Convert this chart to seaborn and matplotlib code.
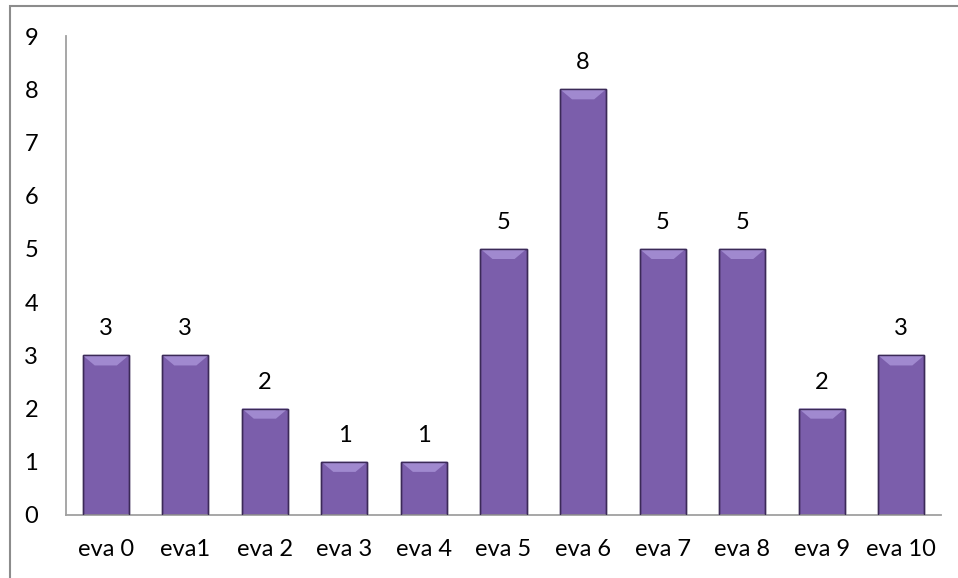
import matplotlib
matplotlib.use("Agg")
import matplotlib.pyplot as plt
from matplotlib.patches import Polygon, Rectangle
import seaborn as sns
import pandas as pd

categories = ["eva 0", "eva1", "eva 2", "eva 3", "eva 4", "eva 5",
              "eva 6", "eva 7", "eva 8", "eva 9", "eva 10"]
counts = [3, 3, 2, 1, 1, 5, 8, 5, 5, 2, 3]

df = pd.DataFrame({"category": categories, "count": counts})

sns.set_theme(style="white")
plt.rcParams["font.family"] = ["Lato", "DejaVu Sans"]

fig = plt.figure(figsize=(9.58, 5.78), dpi=100)
ax = fig.add_axes([0.0689, 0.109, 0.9134, 0.8287])

sns.barplot(data=df, x="category", y="count", color="#7b5eab",
            width=0.58, edgecolor="#3b2a57", linewidth=1.0,
            saturation=1, ax=ax)

# bevelled top on each bar
for p in ax.patches:
    x0, y0 = p.get_x(), p.get_y()
    w, h = p.get_width(), p.get_height()
    bx = w * 0.26
    by = 0.19
    top = y0 + h
    ax.add_patch(Polygon([(x0, top), (x0 + w, top), (x0 + w - bx, top - by),
                          (x0 + bx, top - by)], closed=True,
                         facecolor="#a089cf", edgecolor="none", zorder=3))
    ax.add_patch(Rectangle((x0, y0), w, h, facecolor="none",
                           edgecolor="#3b2a57", linewidth=1.0, zorder=4))
    ax.annotate(f"{int(round(h))}", (x0 + w / 2, top), xytext=(0, 19),
                textcoords="offset points", ha="center", va="center",
                fontsize=17, color="black")

ax.set_ylim(0, 9)
ax.set_xlim(-0.5, len(categories) - 0.5)
ax.set_yticks(range(0, 10))
ax.set_xlabel("")
ax.set_ylabel("")
ax.tick_params(axis="both", length=0, labelsize=17, colors="black")
ax.tick_params(axis="y", pad=20)
ax.tick_params(axis="x", pad=17)

for side in ["top", "right"]:
    ax.spines[side].set_visible(False)
for side in ["left", "bottom"]:
    ax.spines[side].set_color("#a0a0a0")
    ax.spines[side].set_linewidth(1.3)

# chart area frame
fig.add_artist(Rectangle((10 / 958, -0.05), 1.05, 1 - 6 / 578 + 0.05,
                         transform=fig.transFigure, facecolor="none",
                         edgecolor="#8c8c8c", linewidth=1.5))

fig.savefig("out.png", dpi=100)
